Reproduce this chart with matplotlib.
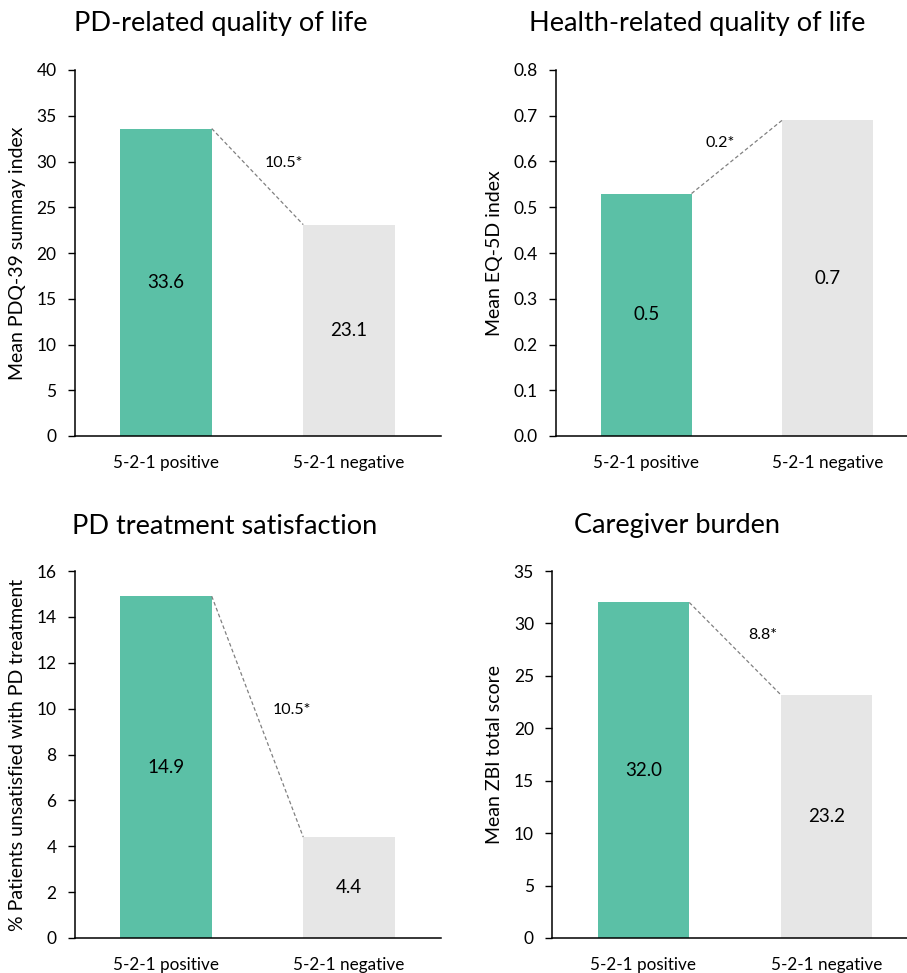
import matplotlib
matplotlib.use('Agg')
import matplotlib.pyplot as plt

plt.rcParams['font.family'] = ['Lato', 'DejaVu Sans']

# Data
groups = ['5-2-1 positive', '5-2-1 negative']

titles = ['PD-related quality of life', 'Health-related quality of life',
          'PD treatment satisfaction', 'Caregiver burden']
ylabels = ['Mean PDQ-39 summay index', 'Mean EQ-5D index',
           '% Patients unsatisfied with PD treatment', 'Mean ZBI total score']

pdq39 = [33.6, 23.1]
eq5d = [0.53, 0.69]
unsatisfied = [14.9, 4.4]
zbi = [32.0, 23.2]
values = [pdq39, eq5d, unsatisfied, zbi]

bar_labels = [['33.6', '23.1'], ['0.5', '0.7'], ['14.9', '4.4'], ['32.0', '23.2']]
diff_labels = ['10.5*', '0.2*', '10.5*', '8.8*']

y_max = [40, 0.8, 16, 35]
y_step = [5, 0.1, 2, 5]
y_fmt = ['{:.0f}', '{:.1f}', '{:.0f}', '{:.0f}']

colors = ['#5BC0A6', '#E6E6E6']

# Layout (pixels)
W, H = 907, 973
boxes = [(74.5, 70, 366, 366), (555.8, 70, 362, 366),
         (74.5, 571, 366, 367), (552, 571, 366, 367)]
title_pos = [(221, 23), (697, 23), (225, 526), (677, 526)]
ylabel_x = [26, 503, 26, 503]
diff_offsets = [(19, 10), (-12, 10), (25, 5), (20, 10)]

fig = plt.figure(figsize=(W / 100, H / 100), dpi=100)

for i in range(4):
    left, top, w, h = boxes[i]
    ax = fig.add_axes([left / W, (H - top - h) / H, w / W, h / H])
    vals = values[i]
    ax.bar([0, 1], vals, width=0.5, color=colors)
    ax.set_xlim(-0.5, 1.5)
    ax.set_ylim(0, y_max[i])

    n = int(round(y_max[i] / y_step[i]))
    ticks = [k * y_step[i] for k in range(n + 1)]
    ax.set_yticks(ticks)
    ax.set_yticklabels([y_fmt[i].format(t) for t in ticks])
    ax.set_xticks([0, 1])
    ax.set_xticklabels(groups)

    ax.tick_params(axis='y', direction='out', length=5, width=1, labelsize=12.5, pad=8)
    ax.tick_params(axis='x', length=0, labelsize=12.3, pad=14)
    for s in ['top', 'right']:
        ax.spines[s].set_visible(False)
    for s in ['left', 'bottom']:
        ax.spines[s].set_linewidth(1.1)

    # bar value labels
    for j in range(2):
        ax.text(j, vals[j] / 2, bar_labels[i][j], ha='center', va='center', fontsize=13.5)

    # dashed connector
    x0, x1 = 0.25, 0.75
    ax.plot([x0, x1], [vals[0], vals[1]], linestyle=(0, (3, 2)), color='#808080',
            linewidth=0.9)
    ax.annotate(diff_labels[i], xy=((x0 + x1) / 2, (vals[0] + vals[1]) / 2),
                xytext=diff_offsets[i], textcoords='offset points',
                ha='center', va='center', fontsize=11.5)

    ax.set_ylabel(ylabels[i], fontsize=14)
    ax.yaxis.set_label_coords((ylabel_x[i] - left) / w, 0.5)

    tx, ty = title_pos[i]
    fig.text(tx / W, 1 - ty / H, titles[i], ha='center', va='center', fontsize=19.5)

fig.savefig('out.png', dpi=100)
